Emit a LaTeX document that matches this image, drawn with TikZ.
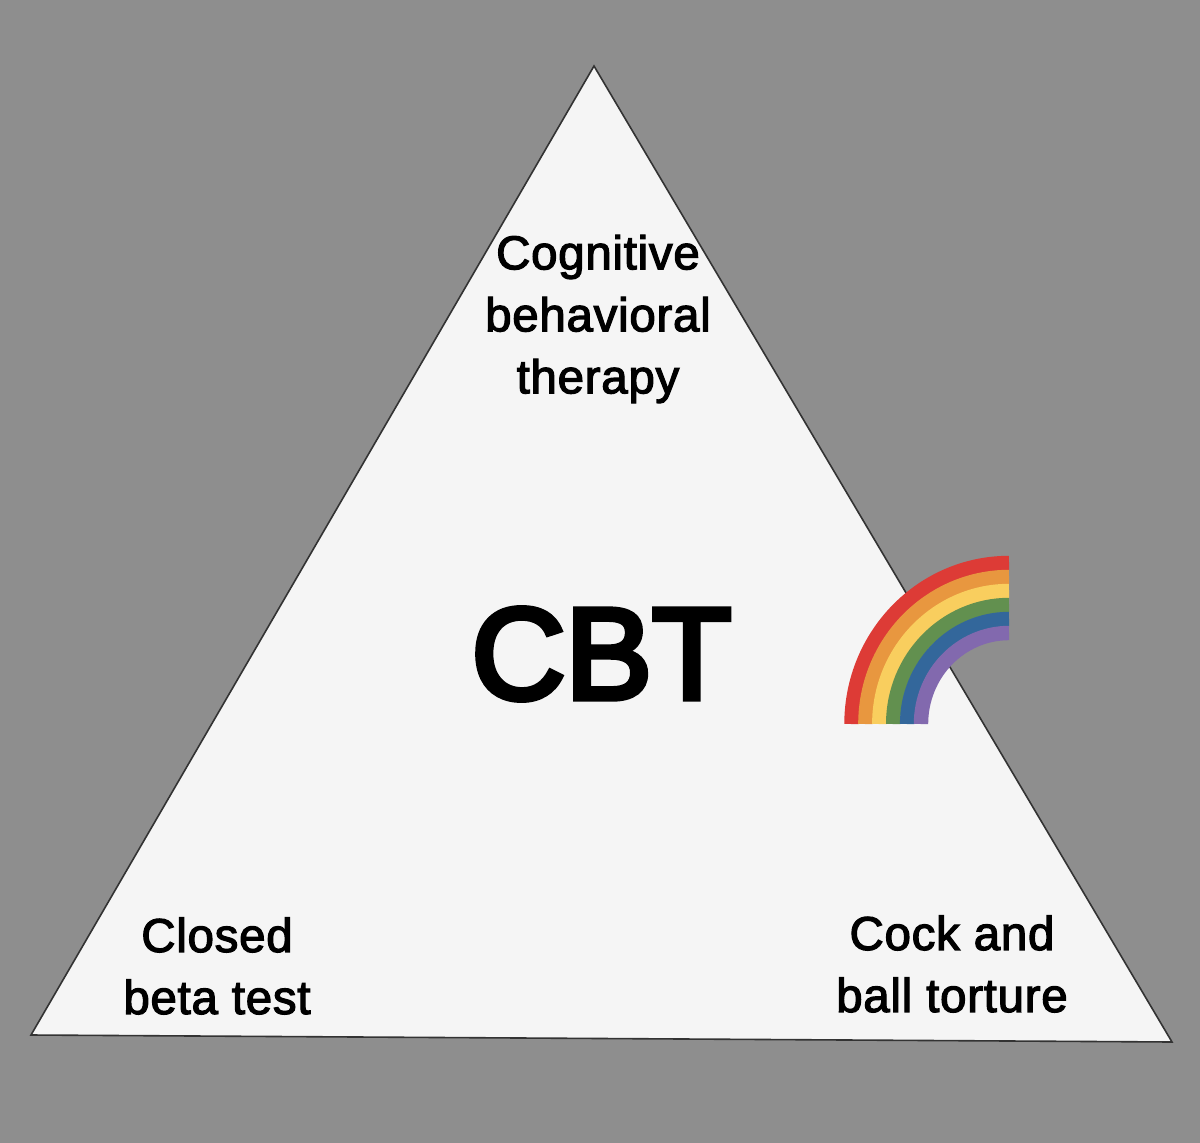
\documentclass[tikz,border=0pt]{standalone}
\usepackage{fontspec}
\setmainfont{Liberation Sans}
\newfontfamily\labelfont[FakeBold=2.5, LetterSpace=1.5]{Liberation Sans}
\newfontfamily\titlefont[FakeBold=4.5]{Liberation Sans}
\definecolor{bggray}{HTML}{8E8E8E}
\definecolor{paper}{HTML}{F5F5F5}
\definecolor{bowred}{HTML}{DD3B36}
\definecolor{boworange}{HTML}{E8973F}
\definecolor{bowyellow}{HTML}{F9CE5E}
\definecolor{bowgreen}{HTML}{62904F}
\definecolor{bowblue}{HTML}{33679B}
\definecolor{bowpurple}{HTML}{8269AE}
\tikzset{
    corner/.style={font=\labelfont\fontsize{47.5}{62}\selectfont, align=center, text=black},
    bowband/.style={line width=14.4pt}
}
\begin{document}
\begin{tikzpicture}[x=1pt, y=-1pt]
    % background
    \fill[bggray] (0,0) rectangle (1200,1143);
    \useasboundingbox (0,0) rectangle (1200,1143);
    % triangle
    \coordinate (apex) at (594,66);
    \coordinate (left) at (31,1035);
    \coordinate (right) at (1172,1042);
    \filldraw[fill=paper, draw=black!80, line width=1.6pt] (apex) -- (right) -- (left) -- cycle;
    % labels
    \node[corner] (cog) at (598,319) {Cognitive\\behavioral\\therapy};
    \node[corner] (closed) at (217,966) {Closed\\beta test};
    \node[corner] (cock) at (952,964) {Cock and\\ball torture};
    \node[font=\titlefont\fontsize{130}{140}\selectfont] (cbt) at (601.5,654) {CBT};
    % rainbow
    \foreach \col/\i in {bowred/0, boworange/1, bowyellow/2, bowgreen/3, bowblue/4, bowpurple/5} {
        \draw[bowband, color=\col] (1009-157.5+13.9*\i,724) arc[start angle=180, end angle=270, x radius=157.5-13.9*\i, y radius=161-14*\i];
    }
\end{tikzpicture}
\end{document}
